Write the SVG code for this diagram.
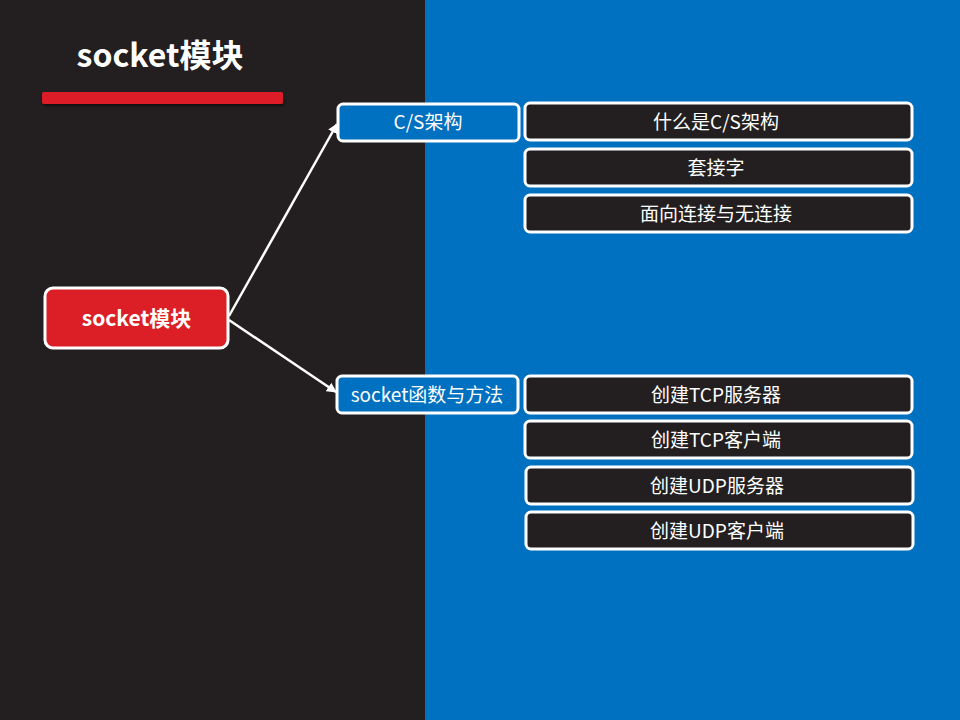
<svg xmlns="http://www.w3.org/2000/svg" width="960" height="720" viewBox="0 0 960 720">
<defs>
<style>
.t{font-family:"Noto Sans CJK SC","Noto Sans",sans-serif;fill:#fff;text-anchor:middle;dominant-baseline:central}
.lbl{font-size:19px}
.blue{fill:#0070C0;stroke:#fff;stroke-width:3}
.dark{fill:#231F20;stroke:#fff;stroke-width:3}
.conn{stroke:#fff;stroke-width:2.5;fill:none;marker-end:url(#ah)}
</style>
<marker id="ah" viewBox="0 0 10 10" refX="9" refY="5" markerWidth="4" markerHeight="4" orient="auto" markerUnits="strokeWidth">
<path d="M0,0 L10,5 L0,10 z" fill="#fff"/>
</marker>
<filter id="sh" x="-10%" y="-50%" width="120%" height="250%">
<feDropShadow dx="1" dy="2" stdDeviation="1.5" flood-color="#000" flood-opacity="0.6"/>
</filter>
</defs>
<rect x="0" y="0" width="425" height="720" fill="#231F20"/>
<rect x="425" y="0" width="535" height="720" fill="#0070C0"/>
<g id="title">
<text class="t" x="160" y="53" font-size="32" font-weight="bold">socket模块</text>
<rect x="42" y="92" width="241" height="12" rx="2" fill="#DC1F26" filter="url(#sh)"/>
</g>
<g id="connectors">
<line class="conn" x1="229" y1="316" x2="337" y2="124"/>
<line class="conn" x1="229" y1="320" x2="336" y2="392"/>
</g>
<g id="root">
<rect x="45" y="288" width="183" height="60" rx="8" fill="#DC1F26" stroke="#fff" stroke-width="3"/>
<text class="t" x="136.5" y="317" font-size="21" font-weight="bold">socket模块</text>
</g>
<g id="cs">
<rect class="blue" x="338" y="104" width="181" height="37" rx="5"/>
<text class="t lbl" x="428" y="120.5">C/S架构</text>
</g>
<g id="cs1">
<rect class="dark" x="525" y="103" width="387" height="37" rx="5"/>
<text class="t lbl" x="716" y="120">什么是C/S架构</text>
</g>
<g id="cs2">
<rect class="dark" x="525" y="149" width="387" height="37" rx="5"/>
<text class="t lbl" x="716" y="166">套接字</text>
</g>
<g id="cs3">
<rect class="dark" x="525" y="195" width="387" height="37" rx="5"/>
<text class="t lbl" x="716" y="212">面向连接与无连接</text>
</g>
<g id="sock">
<rect class="blue" x="337" y="376" width="181" height="37" rx="5"/>
<text class="t lbl" x="427" y="393">socket函数与方法</text>
</g>
<g id="s1">
<rect class="dark" x="525" y="376" width="387" height="37" rx="5"/>
<text class="t lbl" x="716" y="393">创建TCP服务器</text>
</g>
<g id="s2">
<rect class="dark" x="525" y="421" width="387" height="37" rx="5"/>
<text class="t lbl" x="716" y="438">创建TCP客户端</text>
</g>
<g id="s3">
<rect class="dark" x="526" y="467" width="387" height="37" rx="5"/>
<text class="t lbl" x="717" y="484">创建UDP服务器</text>
</g>
<g id="s4">
<rect class="dark" x="526" y="512" width="387" height="37" rx="5"/>
<text class="t lbl" x="717" y="529">创建UDP客户端</text>
</g>
</svg>
